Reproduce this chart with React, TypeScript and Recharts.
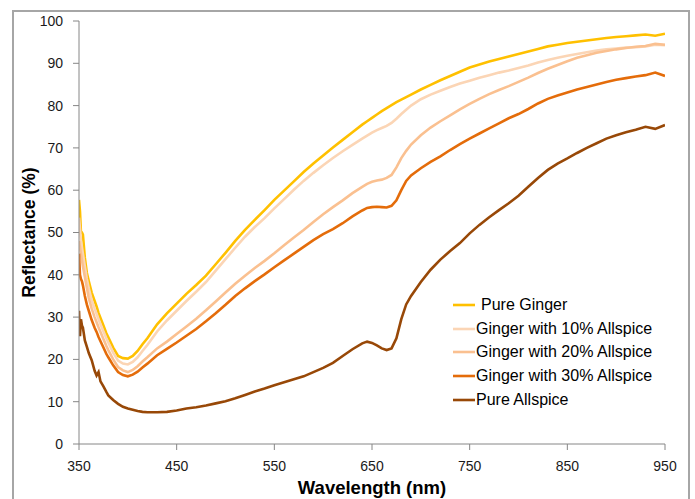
import React from 'react';
import { LineChart, Line, XAxis, YAxis, Legend, Label } from 'recharts';

const wavelengths = [
  350, 351, 352, 353, 354, 356, 358, 360, 363, 366, 368, 370, 372, 375, 378, 380, 385, 390, 395, 400, 405, 410, 415, 420,
  430, 440, 450, 460, 470, 480, 490, 500, 510, 520, 530, 540, 550, 560, 570, 580, 590, 600, 610, 620, 630, 640,
  645, 650, 655, 660, 665, 670, 675, 680, 685, 690,
  700, 710, 720, 730, 740, 750, 760, 770, 780, 790, 800, 810, 820, 830, 840, 850, 860, 870, 880, 890, 900, 910, 920, 930, 940, 950,
];

const pureGinger = [
  57.7, 55, 50, 50, 49.5, 44, 40.5, 38.5, 35.8, 33.8, 32.5, 31, 29.8, 28, 26.2, 25.2, 22.8, 20.8, 20.3, 20.2, 20.8, 22, 23.6, 25,
  28.3, 30.9, 33.2, 35.5, 37.6, 39.8, 42.5, 45.2, 48, 50.6, 53, 55.3, 57.7, 59.9, 62.1, 64.3, 66.3, 68.2, 70.1, 71.9, 73.7, 75.5,
  76.3, 77.1, 77.9, 78.7, 79.4, 80.1, 80.8, 81.4, 82, 82.6,
  83.8, 84.9, 86, 87, 88, 89, 89.7, 90.4, 91, 91.6, 92.2, 92.8, 93.4, 94, 94.4, 94.8, 95.1, 95.4, 95.7, 96, 96.2, 96.4, 96.6, 96.8, 96.5, 97,
];

const ginger10 = [
  53.5, 51, 48, 46.5, 45, 42, 39, 36.8, 34, 32, 30.8, 29.5, 28.3, 26.6, 25, 24, 21.6, 19.7, 19, 18.8, 19.4, 20.5, 22, 23.4,
  26.6, 29.2, 31.5, 33.8, 36, 38.3, 41, 43.7, 46.4, 49, 51.3, 53.4, 55.7, 57.9, 60.1, 62.2, 64.1, 65.9, 67.6, 69.2, 70.7, 72.2,
  72.9, 73.6, 74.2, 74.7, 75.2, 75.9, 76.9, 78, 79, 80,
  81.5, 82.6, 83.5, 84.4, 85.2, 85.9, 86.6, 87.2, 87.8, 88.3, 88.9, 89.5, 90.2, 90.8, 91.3, 91.8, 92.2, 92.6, 93, 93.3, 93.5, 93.7, 93.8, 94, 94.4, 94.3,
];

const ginger20 = [
  48, 46.5, 45, 43.5, 42, 39.5, 37, 34.5, 32, 30, 28.8, 27.6, 26.5, 24.8, 23.2, 22.2, 20, 18.2, 17.4, 17, 17.5, 18.4, 19.5, 20.5,
  22.6, 24.2, 26, 27.8, 29.6, 31.6, 33.7, 35.8, 37.9, 39.8, 41.6, 43.3, 45.1, 47, 48.8, 50.6, 52.5, 54.3, 56, 57.6, 59.3, 60.8,
  61.5, 62, 62.3, 62.5, 62.9, 63.6, 65.4, 67.6, 69.3, 70.8,
  73, 74.8, 76.3, 77.7, 79.1, 80.4, 81.6, 82.7, 83.7, 84.6, 85.6, 86.6, 87.7, 88.7, 89.6, 90.5, 91.3, 91.9, 92.5, 92.9, 93.3, 93.6, 93.9, 94.1, 94.6, 94.4,
];

const ginger30 = [
  45, 40, 39, 38.5, 37.5, 35, 33, 31.5, 29.3, 27.5, 26.5, 25.3, 24.3, 22.8, 21.3, 20.5, 18.6, 17, 16.3, 16, 16.4, 17.1, 18.1, 19,
  21, 22.5, 24, 25.6, 27.2, 29, 30.9, 32.9, 35, 36.8, 38.5, 40.1, 41.8, 43.4, 45, 46.6, 48.2, 49.6, 50.8, 52.2, 53.8, 55.2,
  55.8, 56, 56.1, 56, 55.9, 56.3, 57.6, 60, 62.2, 63.5,
  65.2, 66.7, 68, 69.5, 70.9, 72.2, 73.4, 74.6, 75.8, 77, 78, 79.2, 80.5, 81.6, 82.4, 83.1, 83.8, 84.4, 85, 85.6, 86.1, 86.5, 86.9, 87.2, 87.8, 87,
];

const pureAllspice = [
  31.5, 25.5, 29.5, 28, 27.5, 24.5, 23, 21.5, 19.8, 17.3, 16.2, 17, 14.8, 13.6, 12.3, 11.5, 10.4, 9.5, 8.8, 8.4, 8.1, 7.8, 7.6, 7.5,
  7.5, 7.6, 7.9, 8.4, 8.7, 9.1, 9.6, 10.1, 10.8, 11.6, 12.4, 13.1, 13.9, 14.6, 15.3, 16, 17, 18, 19.2, 20.8, 22.4, 23.8,
  24.2, 23.9, 23.3, 22.6, 22.2, 22.6, 25, 29.5, 33, 35,
  38.3, 41.2, 43.6, 45.6, 47.5, 49.8, 51.8, 53.6, 55.3, 56.9, 58.7, 60.8, 62.9, 64.8, 66.3, 67.5, 68.8, 70, 71.1, 72.2, 73, 73.7, 74.3, 75, 74.5, 75.4,
];

const xTicks = [350, 450, 550, 650, 750, 850, 950];
const yTicks = [0, 10, 20, 30, 40, 50, 60, 70, 80, 90, 100];

const seriesNames = ['Pure Ginger', 'Ginger with 10% Allspice', 'Ginger with 20% Allspice', 'Ginger with 30% Allspice', 'Pure Allspice'];
const seriesKeys = ['g0', 'g10', 'g20', 'g30', 'a'];
const seriesColors = ['#FFC000', '#FBD5B5', '#FAC090', '#E46C0A', '#984807'];
const seriesValues = [pureGinger, ginger10, ginger20, ginger30, pureAllspice];

const rows = wavelengths.map((wl, i) => {
  const r: Record<string, number> = { wl };
  seriesKeys.forEach((k, s) => {
    r[k] = seriesValues[s][i];
  });
  return r;
});

const FONT = '"Liberation Sans", Arial, sans-serif';

const LegendBox = () => (
  <div style={{ fontFamily: FONT, fontSize: 16, color: '#000' }}>
    {seriesNames.map((name, i) => (
      <div key={name} style={{ display: 'flex', alignItems: 'center', height: 23.7 }}>
        <svg width={22} height={4} style={{ display: 'block' }}>
          <line x1={0} y1={2} x2={22} y2={2} stroke={seriesColors[i]} strokeWidth={2.6} />
        </svg>
        <span style={{ whiteSpace: 'pre', marginLeft: i === 0 ? 6 : 1 }}>{name}</span>
      </div>
    ))}
  </div>
);

export default function App() {
  return (
    <div style={{ position: 'absolute', left: 0, top: 0, width: 695, height: 499, background: '#fff', overflow: 'hidden' }}>
      <div
        style={{
          position: 'absolute',
          left: 12,
          top: 10,
          width: 678,
          height: 530,
          border: '2px solid #A6A6A6',
          boxSizing: 'border-box',
        }}
      />
      <div style={{ position: 'absolute', left: 0, top: 0 }}>
        <LineChart
          width={695}
          height={499}
          data={rows}
          margin={{ top: 21, right: 30, left: 19, bottom: 25 }}
          style={{ fontFamily: FONT }}
        >
          <XAxis
            dataKey="wl"
            type="number"
            domain={[350, 950]}
            ticks={xTicks}
            allowDataOverflow
            height={30}
            stroke="#868686"
            tickSize={6}
            tickMargin={11}
            tick={{ fill: '#1a1a1a', fontSize: 14 }}
          >
            <Label
              content={() => (
                <text x={372} y={494} textAnchor="middle" fontFamily={FONT} fontWeight="bold" fontSize={18.5} fill="#000">
                  Wavelength (nm)
                </text>
              )}
            />
          </XAxis>
          <YAxis
            domain={[0, 100]}
            ticks={yTicks}
            allowDataOverflow
            width={60}
            stroke="#868686"
            tickSize={6}
            tickMargin={10}
            tick={{ fill: '#1a1a1a', fontSize: 14 }}
          >
            <Label
              content={() => (
                <text
                  x={35}
                  y={232.5}
                  transform="rotate(-90, 35, 232.5)"
                  textAnchor="middle"
                  fontFamily={FONT}
                  fontWeight="bold"
                  fontSize={17.5}
                  fill="#000"
                >
                  Reflectance (%)
                </text>
              )}
            />
          </YAxis>
          <Legend
            layout="vertical"
            align="center"
            verticalAlign="middle"
            content={() => <LegendBox />}
            wrapperStyle={{ position: 'absolute', left: 453, top: 293, width: 240 }}
          />
          {seriesKeys.map((k, i) => (
            <Line
              key={k}
              type="linear"
              dataKey={k}
              name={seriesNames[i]}
              stroke={seriesColors[i]}
              strokeWidth={2.6}
              dot={false}
              activeDot={false}
              isAnimationActive={false}
            />
          ))}
        </LineChart>
      </div>
    </div>
  );
}
